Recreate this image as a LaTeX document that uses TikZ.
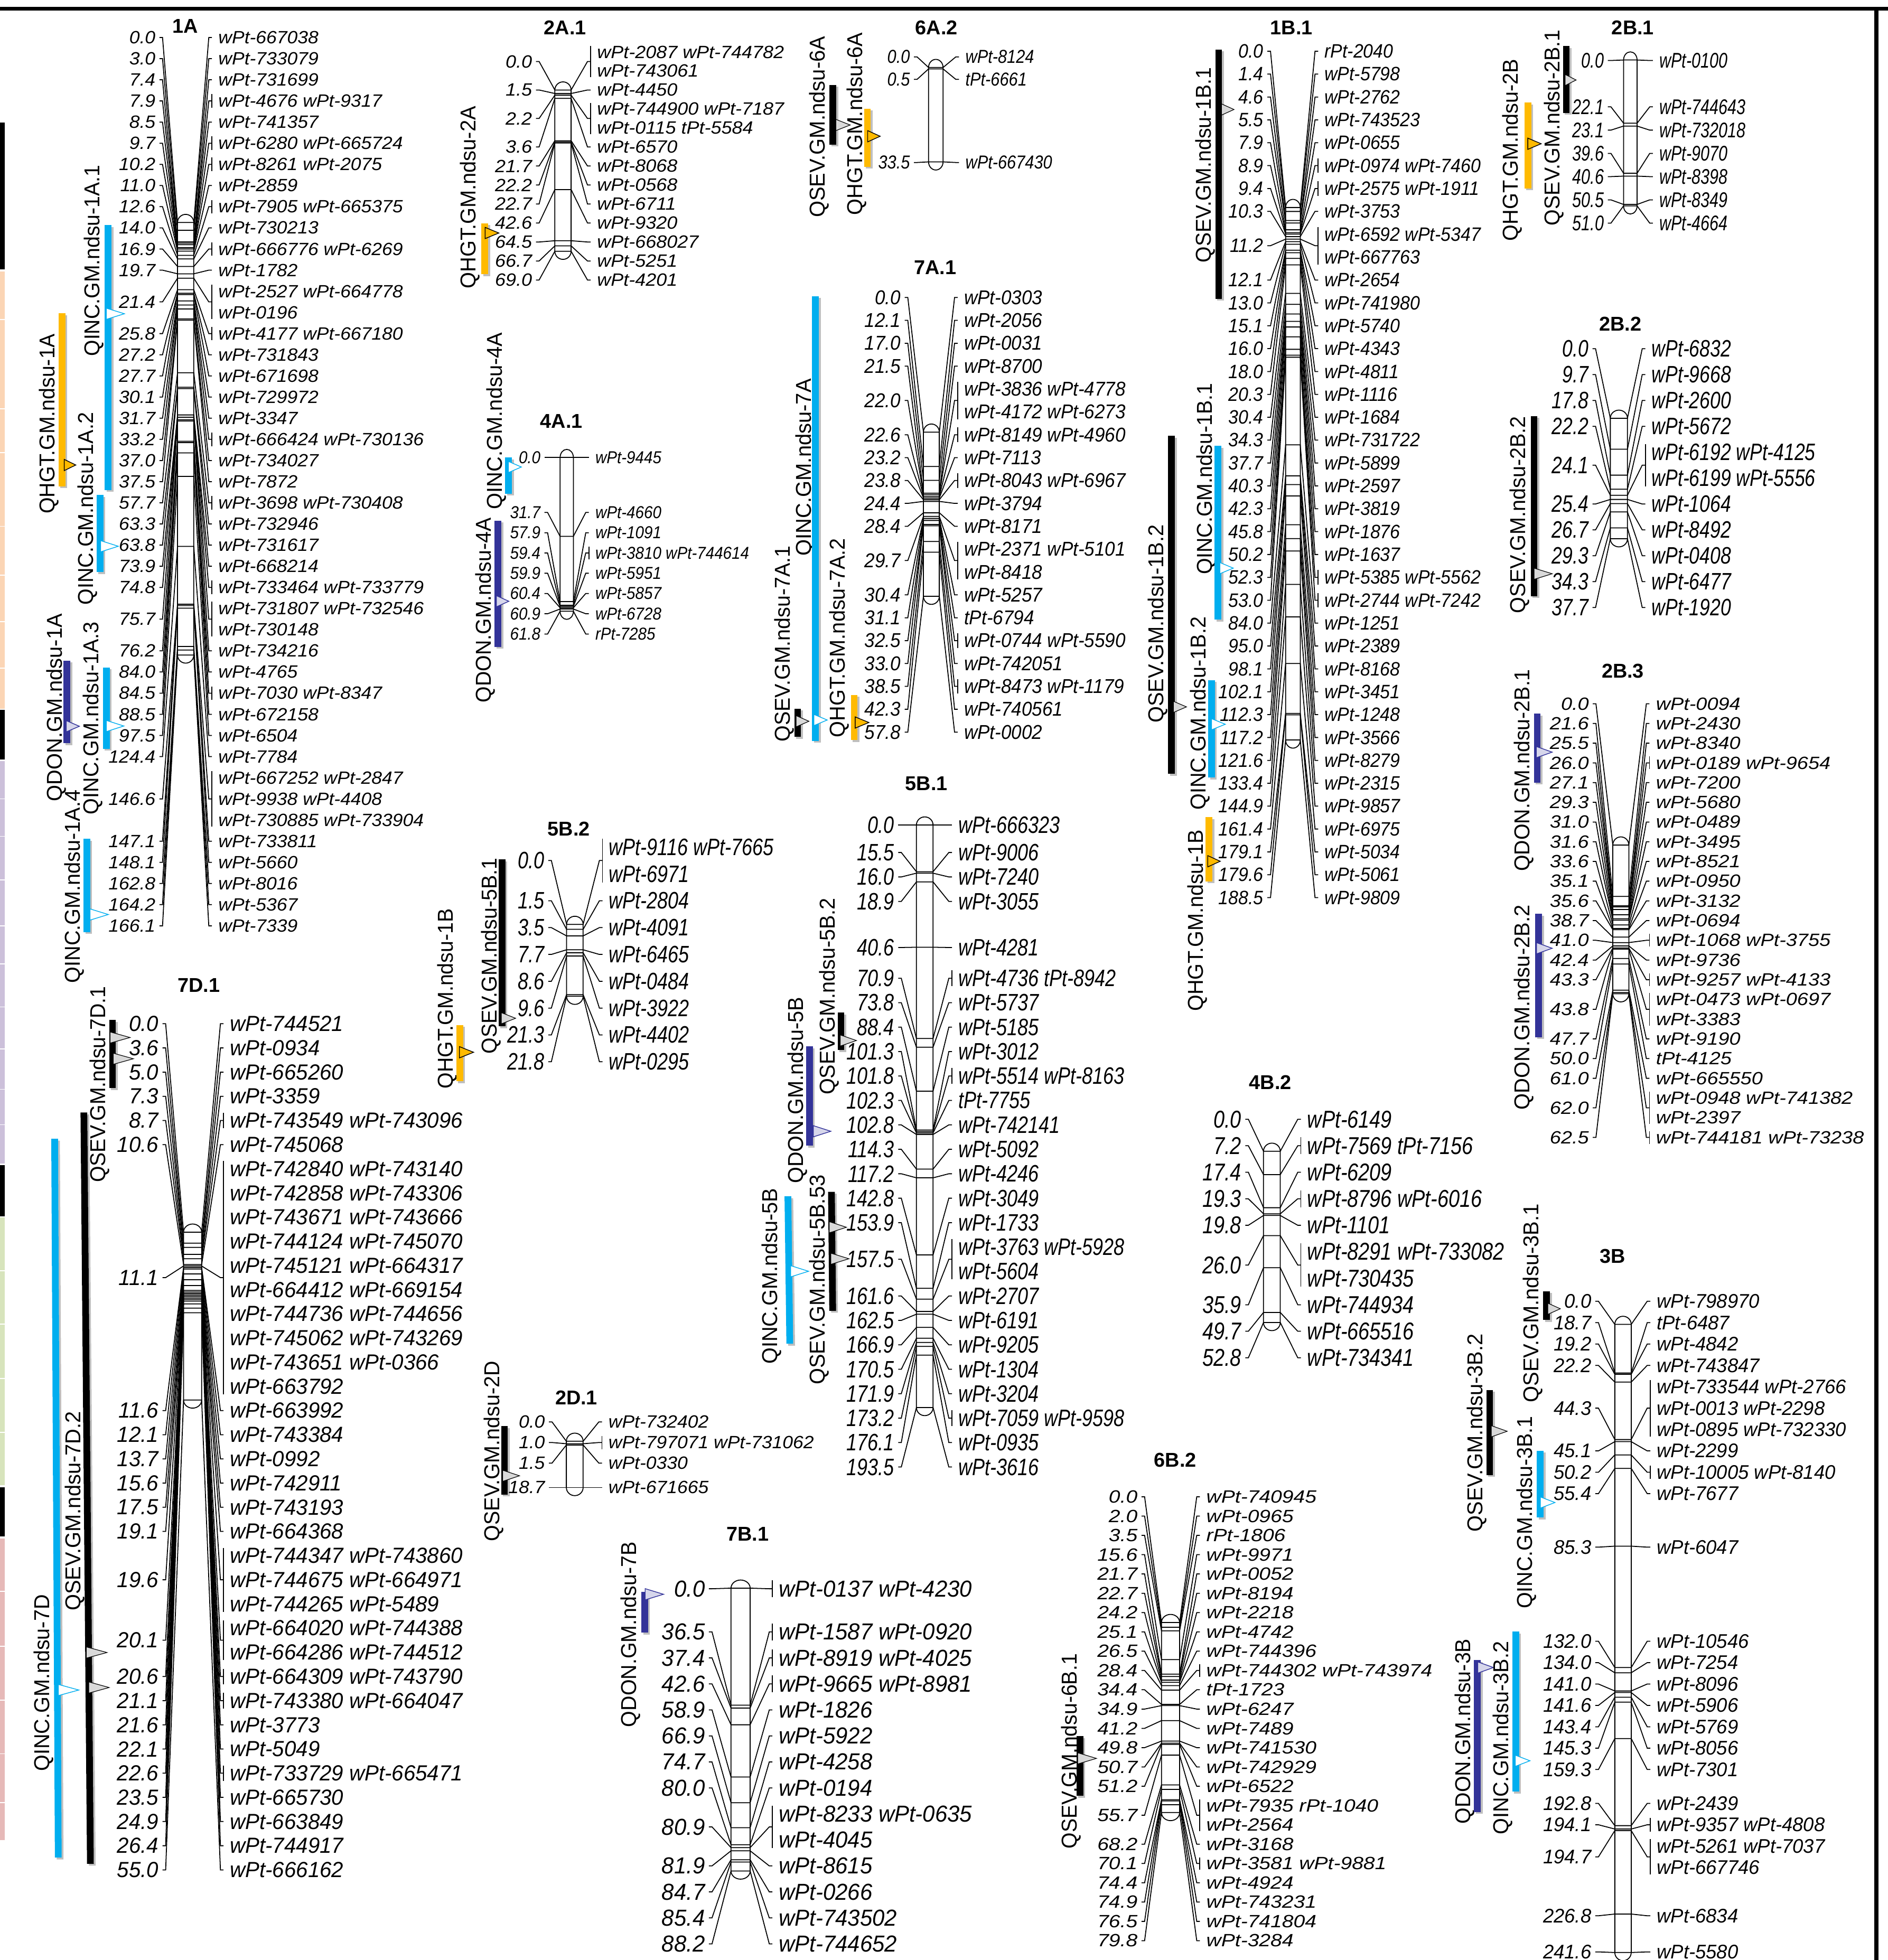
\documentclass[tikz,border=0pt]{standalone}
\usepackage{fontspec}
\usepackage{graphicx}
\setmainfont{Liberation Sans}
\definecolor{qincblue}{HTML}{00AEEF}
\definecolor{qhgtorange}{HTML}{FFBA00}
\definecolor{qdonnavy}{HTML}{333399}
\definecolor{stripeach}{HTML}{FBD5B5}
\definecolor{striplilac}{HTML}{CCC0DA}
\definecolor{stripgreen}{HTML}{D7E4BC}
\definecolor{strippink}{HTML}{E6B9B8}
\tikzset{
  mapnum/.style={anchor=east,inner ysep=0pt,inner xsep=3pt,font=\itshape},
  mapname/.style={anchor=west,inner ysep=0pt,inner xsep=5pt,font=\itshape},
  maplink/.style={line width=.75pt},
  maptitle/.style={font=\fontsize{16}{18}\selectfont\bfseries,inner sep=0pt},
  qtltext/.style={rotate=90,inner sep=0pt},
  barinc/.style={fill=qincblue},
  barhgt/.style={fill=qhgtorange},
  bardon/.style={fill=qdonnavy},
  barsev/.style={fill=black},
  triinc/.style={fill=white,draw=qincblue,line width=.6pt},
  trihgt/.style={fill=qhgtorange,draw=black,line width=.6pt},
  tridon/.style={fill=qdonnavy!20,draw=qdonnavy,line width=.6pt},
  trisev/.style={fill=black!15,draw=black,line width=.5pt}
}
\newcount\locus
\newcommand{\mapx}[6]{\def\xlt{#1}\def\xbl{#2}\def\xbr{#3}\def\xbk{#4}\def\sx{#5}\def\sy{#6}}
\newcommand{\mapy}[4]{\def\yo{#1}\def\yz{#2}\def\maxpos{#3}\def\dy{#4}}
\newcommand{\chrom}[3]{%
  \pgfmathsetmacro{\hw}{(\xbr-\xbl)/2}
  \node[maptitle] (t#1) at (#2,#3) {#1};
  \draw[maplink] (\xbl,\yo) arc[start angle=180,end angle=360,x radius=\hw,y radius=6.5]
    -- (\xbr,\yz) arc[start angle=0,end angle=180,x radius=\hw,y radius=6.5] -- cycle;
}
\newcommand{\loci}[2]{%
  \xdef\cury{#1}%
  \foreach \nr/\pos/\names in {#2} {
    \global\advance\locus by 1
    \pgfmathsetmacro{\rows}{max(\nr,1)}
    \pgfmathsetmacro{\ly}{\cury+(\rows-1)*\dy/2}
    \pgfmathsetmacro{\by}{\yo+\pos/\maxpos*(\yz-\yo)}
    \pgfmathsetmacro{\hb}{(\rows-1)*\dy/2+.32*\dy}
    \node[mapnum] (l\the\locus) at (\xlt,\ly) {\scalebox{\sx}[\sy]{\pos}};
    \foreach \nm [count=\rk] in \names {
      \pgfmathsetmacro{\ry}{\cury+(\rk-1)*\dy}
      \node[mapname] (r\the\locus-\rk) at (\xbk,\ry) {\scalebox{\sx}[\sy]{\nm}};
    }
    \coordinate (a\the\locus) at (\xbl,\by);
    \coordinate (b\the\locus) at (\xbr,\by);
    \coordinate (e\the\locus) at (\xbk,\ly);
    \draw[maplink] (l\the\locus.east) -- ++(2.5,0) -- (a\the\locus) -- (b\the\locus)
      -- ([xshift=-2.5pt]e\the\locus) -- (e\the\locus);
    \ifnum\nr=1\else
      \draw[maplink] (\xbk,\ly-\hb) -- (\xbk,\ly+\hb);
    \fi
    \pgfmathsetmacro{\nexty}{\cury+\rows*\dy}
    \xdef\cury{\nexty}
  }
}
\newcommand{\qtl}[9]{%
  \pgfmathsetmacro{\qlen}{#4-#5}
  \pgfmathsetmacro{\qmid}{(#4+#5)/2}
  \node[qtltext] (#2) at (#3,\qmid) {\resizebox{\qlen pt}{12.5pt}{#2}};
  \fill[black,opacity=.25] (#6-1.2,#8+1.5) -- (#6+4.2,#8+1.5) -- (#7+4.2,#9+1.5) -- (#7-1.2,#9+1.5) -- cycle;
  \fill[bar#1] (#6-2.7,#8) -- (#6+2.7,#8) -- (#7+2.7,#9) -- (#7-2.7,#9) -- cycle;
}
\newcommand{\qtri}[4]{%
  \draw[tri#1] (#2,#4-4.5) -- (#3,#4) -- (#2,#4+4.5) -- cycle;
}
\begin{document}
\begin{tikzpicture}[x=1pt,y=-1pt]
  \useasboundingbox (0,0) rectangle (1510,1568);
  % frame
  \fill[black] (0,5.7) rectangle (1510,8.5);
  \fill[black] (1499,7) rectangle (1502.3,1568);
  % strip on the left
  \fill[black] (0,98) rectangle (4,215.5);
  \fill[stripeach] (0,217) rectangle (4,567);
  \fill[black] (0,567.7) rectangle (4,607.7);
  \fill[striplilac] (0,609) rectangle (4,931);
  \fill[black] (0,932) rectangle (4,973);
  \fill[stripgreen] (0,974) rectangle (4,1188);
  \fill[black] (0,1190) rectangle (4,1229);
  \fill[strippink] (0,1231) rectangle (4,1472);
  \foreach \ys in {255.7,327,362,421,460,497.4,534.5,639,669,704,740.6,771,805.5,839,871.4,899.8,1016.7,1059.4,1102.7,1146,1273,1317,1360,1403,1442}
    \draw[white,line width=.7pt] (0,\ys) -- (4,\ys);

  % 1A
  \mapx{127.5}{142}{155}{169.5}{1.5}{1.42}
  \mapy{178}{524}{166.1}{16.92}
  \chrom{1A}{148}{21}
  \loci{30}{1/0.0/wPt-667038,1/3.0/wPt-733079,1/7.4/wPt-731699,0/7.9/wPt-4676 wPt-9317,1/8.5/wPt-741357,
    0/9.7/wPt-6280 wPt-665724,0/10.2/wPt-8261 wPt-2075,1/11.0/wPt-2859,0/12.6/wPt-7905 wPt-665375,1/14.0/wPt-730213,
    0/16.9/wPt-666776 wPt-6269,1/19.7/wPt-1782,2/21.4/{wPt-2527 wPt-664778,wPt-0196},0/25.8/wPt-4177 wPt-667180,
    1/27.2/wPt-731843,1/27.7/wPt-671698,1/30.1/wPt-729972,1/31.7/wPt-3347,0/33.2/wPt-666424 wPt-730136,
    1/37.0/wPt-734027,1/37.5/wPt-7872,0/57.7/wPt-3698 wPt-730408,1/63.3/wPt-732946,1/63.8/wPt-731617,
    1/73.9/wPt-668214,0/74.8/wPt-733464 wPt-733779,2/75.7/{wPt-731807 wPt-732546,wPt-730148},1/76.2/wPt-734216,
    1/84.0/wPt-4765,0/84.5/wPt-7030 wPt-8347,1/88.5/wPt-672158,1/97.5/wPt-6504,1/124.4/wPt-7784,
    3/146.6/{wPt-667252 wPt-2847,wPt-9938 wPt-4408,wPt-730885 wPt-733904},1/147.1/wPt-733811,1/148.1/wPt-5660,
    1/162.8/wPt-8016,1/164.2/wPt-5367,1/166.1/wPt-7339}

  % 7D.1
  \mapx{130}{146.8}{161.3}{178.8}{1.7}{1.75}
  \mapy{985.7}{1120}{55.0}{19.34}
  \chrom{7D.1}{159}{788}
  \loci{819}{1/0.0/wPt-744521,1/3.6/wPt-0934,1/5.0/wPt-665260,1/7.3/wPt-3359,0/8.7/wPt-743549 wPt-743096,1/10.6/wPt-745068,
    10/11.1/{wPt-742840 wPt-743140,wPt-742858 wPt-743306,wPt-743671 wPt-743666,wPt-744124 wPt-745070,wPt-745121 wPt-664317,
    wPt-664412 wPt-669154,wPt-744736 wPt-744656,wPt-745062 wPt-743269,wPt-743651 wPt-0366,wPt-663792},
    1/11.6/wPt-663992,1/12.1/wPt-743384,1/13.7/wPt-0992,1/15.6/wPt-742911,1/17.5/wPt-743193,1/19.1/wPt-664368,
    3/19.6/{wPt-744347 wPt-743860,wPt-744675 wPt-664971,wPt-744265 wPt-5489},2/20.1/{wPt-664020 wPt-744388,wPt-664286 wPt-744512},
    0/20.6/wPt-664309 wPt-743790,0/21.1/wPt-743380 wPt-664047,1/21.6/wPt-3773,1/22.1/wPt-5049,0/22.6/wPt-733729 wPt-665471,
    1/23.5/wPt-665730,1/24.9/wPt-663849,1/26.4/wPt-744917,1/55.0/wPt-666162}

  % 2A.1
  \mapx{428.7}{443.8}{456.8}{472.4}{1.52}{1.42}
  \mapy{72}{201}{69.0}{15.2}
  \chrom{2A.1}{452}{22}
  \loci{41.6}{2/0.0/{wPt-2087 wPt-744782,wPt-743061},1/1.5/wPt-4450,2/2.2/{wPt-744900 wPt-7187,wPt-0115 tPt-5584},1/3.6/wPt-6570,
    1/21.7/wPt-8068,1/22.2/wPt-0568,1/22.7/wPt-6711,1/42.6/wPt-9320,1/64.5/wPt-668027,1/66.7/wPt-5251,1/69.0/wPt-4201}

  % 4A.1
  \mapx{435.5}{448}{458.6}{471}{1.25}{1.38}
  \mapy{366}{489}{61.8}{16.2}
  \chrom{4A.1}{449}{337}
  \loci{366}{1/0.0/wPt-9445}
  \loci{410}{1/31.7/wPt-4660,1/57.9/wPt-1091,0/59.4/wPt-3810 wPt-744614,1/59.9/wPt-5951,1/60.4/wPt-5857,1/60.9/wPt-6728,1/61.8/rPt-7285}

  % 6A.2
  \mapx{731}{742.7}{754.3}{767}{1.3}{1.5}
  \mapy{54}{129.5}{33.5}{18}
  \chrom{6A.2}{749}{22}
  \loci{45.5}{1/0.0/wPt-8124,1/0.5/tPt-6661}
  \loci{130}{1/33.5/wPt-667430}

  % 7A.1
  \mapx{723.6}{738.6}{751.3}{766}{1.48}{1.6}
  \mapy{345.7}{477}{57.8}{18.3}
  \chrom{7A.1}{748}{214}
  \loci{238}{1/0.0/wPt-0303,1/12.1/wPt-2056,1/17.0/wPt-0031,1/21.5/wPt-8700,2/22.0/{wPt-3836 wPt-4778,wPt-4172 wPt-6273},
    0/22.6/wPt-8149 wPt-4960,1/23.2/wPt-7113,0/23.8/wPt-8043 wPt-6967,1/24.4/wPt-3794,1/28.4/wPt-8171,
    2/29.7/{wPt-2371 wPt-5101,wPt-8418},1/30.4/wPt-5257,1/31.1/tPt-6794,0/32.5/wPt-0744 wPt-5590,1/33.0/wPt-742051,
    0/38.5/wPt-8473 wPt-1179,1/42.3/wPt-740561,1/57.8/wPt-0002}

  % 5B.2
  \mapx{438.5}{453.2}{466.4}{481.9}{1.52}{1.9}
  \mapy{739.5}{797}{21.8}{21.46}
  \chrom{5B.2}{455}{663}
  \loci{677.7}{2/0.0/{wPt-9116 wPt-7665,wPt-6971},1/1.5/wPt-2804,1/3.5/wPt-4091,1/7.7/wPt-6465,1/8.6/wPt-0484,1/9.6/wPt-3922,
    1/21.3/wPt-4402,1/21.8/wPt-0295}

  % 2D.1
  \mapx{439}{453}{466.4}{481.5}{1.5}{1.42}
  \mapy{1153}{1190}{18.7}{16.5}
  \chrom{2D.1}{461}{1118}
  \loci{1137.5}{1/0.0/wPt-732402,0/1.0/wPt-797071 wPt-731062,1/1.5/wPt-0330}
  \loci{1190}{1/18.7/wPt-671665}

  % 5B.1
  \mapx{718.4}{733}{746.3}{761.4}{1.52}{1.9}
  \mapy{660}{1126}{193.5}{19.55}
  \chrom{5B.1}{741}{627}
  \loci{660}{1/0.0/wPt-666323}
  \loci{682}{1/15.5/wPt-9006,1/16.0/wPt-7240,1/18.9/wPt-3055}
  \loci{758}{1/40.6/wPt-4281}
  \loci{782.6}{0/70.9/wPt-4736 tPt-8942,1/73.8/wPt-5737,1/88.4/wPt-5185,1/101.3/wPt-3012,0/101.8/wPt-5514 wPt-8163,1/102.3/tPt-7755,
    1/102.8/wPt-742141,1/114.3/wPt-5092,1/117.2/wPt-4246,1/142.8/wPt-3049,1/153.9/wPt-1733,2/157.5/{wPt-3763 wPt-5928,wPt-5604},
    1/161.6/wPt-2707,1/162.5/wPt-6191,1/166.9/wPt-9205,1/170.5/wPt-1304,1/171.9/wPt-3204,0/173.2/wPt-7059 wPt-9598,
    1/176.1/wPt-0935,1/193.5/wPt-3616}

  % 7B.1
  \mapx{567}{584.7}{600}{617.8}{1.77}{1.85}
  \mapy{1270.5}{1496.8}{88.2}{20.8}
  \chrom{7B.1}{598}{1227}
  \loci{1271}{0/0.0/wPt-0137 wPt-4230}
  \loci{1305.5}{0/36.5/wPt-1587 wPt-0920,0/37.4/wPt-8919 wPt-4025,0/42.6/wPt-9665 wPt-8981,1/58.9/wPt-1826,1/66.9/wPt-5922,
    1/74.7/wPt-4258,1/80.0/wPt-0194,2/80.9/{wPt-8233 wPt-0635,wPt-4045},1/81.9/wPt-8615,1/84.7/wPt-0266,1/85.4/wPt-743502,1/88.2/wPt-744652}

  % 1B.1
  \mapx{1013.7}{1028.3}{1040}{1054.3}{1.43}{1.55}
  \mapy{166}{592}{188.5}{18.3}
  \chrom{1B.1}{1033}{22}
  \loci{41}{1/0.0/rPt-2040,1/1.4/wPt-5798,1/4.6/wPt-2762,1/5.5/wPt-743523,1/7.9/wPt-0655,0/8.9/wPt-0974 wPt-7460,0/9.4/wPt-2575 wPt-1911,
    1/10.3/wPt-3753,2/11.2/{wPt-6592 wPt-5347,wPt-667763},1/12.1/wPt-2654,1/13.0/wPt-741980,1/15.1/wPt-5740,1/16.0/wPt-4343,
    1/18.0/wPt-4811,1/20.3/wPt-1116,1/30.4/wPt-1684,1/34.3/wPt-731722,1/37.7/wPt-5899,1/40.3/wPt-2597,1/42.3/wPt-3819,
    1/45.8/wPt-1876,1/50.2/wPt-1637,0/52.3/wPt-5385 wPt-5562,0/53.0/wPt-2744 wPt-7242,1/84.0/wPt-1251,1/95.0/wPt-2389,
    1/98.1/wPt-8168,1/102.1/wPt-3451,1/112.3/wPt-1248,1/117.2/wPt-3566,1/121.6/wPt-8279,1/133.4/wPt-2315,1/144.9/wPt-9857,
    1/161.4/wPt-6975,1/179.1/wPt-5034,1/179.6/wPt-5061,1/188.5/wPt-9809}

  % 2B.1
  \mapx{1286}{1298.6}{1309.4}{1322}{1.29}{1.7}
  \mapy{48}{164.7}{51.0}{18.6}
  \chrom{2B.1}{1306}{22}
  \loci{48.4}{1/0.0/wPt-0100}
  \loci{85.5}{1/22.1/wPt-744643,1/23.1/wPt-732018,1/39.6/wPt-9070,1/40.6/wPt-8398,1/50.5/wPt-8349,1/51.0/wPt-4664}

  % 2B.2
  \mapx{1273.7}{1288}{1301.7}{1316}{1.5}{1.9}
  \mapy{334.6}{431}{37.7}{20.7}
  \chrom{2B.2}{1296}{259}
  \loci{279}{1/0.0/wPt-6832,1/9.7/wPt-9668,1/17.8/wPt-2600,1/22.2/wPt-5672,2/24.1/{wPt-6192 wPt-4125,wPt-6199 wPt-5556},
    1/25.4/wPt-1064,1/26.7/wPt-8492,1/29.3/wPt-0408,1/34.3/wPt-6477,1/37.7/wPt-1920}

  % 2B.3
  \mapx{1274}{1290}{1302.8}{1319.3}{1.6}{1.42}
  \mapy{676}{795}{62.5}{15.77}
  \chrom{2B.3}{1298}{537}
  \loci{563}{1/0.0/wPt-0094,1/21.6/wPt-2430,1/25.5/wPt-8340,0/26.0/wPt-0189 wPt-9654,1/27.1/wPt-7200,1/29.3/wPt-5680,1/31.0/wPt-0489,
    1/31.6/wPt-3495,1/33.6/wPt-8521,1/35.1/wPt-0950,1/35.6/wPt-3132,1/38.7/wPt-0694,0/41.0/wPt-1068 wPt-3755,1/42.4/wPt-9736,
    0/43.3/wPt-9257 wPt-4133,2/43.8/{wPt-0473 wPt-0697,wPt-3383},1/47.7/wPt-9190,1/50.0/tPt-4125,1/61.0/wPt-665550,
    2/62.0/{wPt-0948 wPt-741382,wPt-2397},0/62.5/wPt-744181 wPt-73238}

  % 4B.2
  \mapx{996}{1010.6}{1024}{1040.5}{1.6}{1.95}
  \mapy{921}{1058}{52.8}{21.2}
  \chrom{4B.2}{1016}{866}
  \loci{895.4}{1/0.0/wPt-6149,0/7.2/wPt-7569 tPt-7156,1/17.4/wPt-6209,0/19.3/wPt-8796 wPt-6016,1/19.8/wPt-1101,
    2/26.0/{wPt-8291 wPt-733082,wPt-730435},1/35.9/wPt-744934,1/49.7/wPt-665516,1/52.8/wPt-734341}

  % 3B
  \mapx{1276}{1291.6}{1304.7}{1320}{1.54}{1.58}
  \mapy{1059.5}{1562}{241.6}{17.1}
  \chrom{3B}{1290}{1005}
  \loci{1041}{1/0.0/wPt-798970,1/18.7/tPt-6487,1/19.2/wPt-4842,1/22.2/wPt-743847,
    3/44.3/{wPt-733544 wPt-2766,wPt-0013 wPt-2298,wPt-0895 wPt-732330},1/45.1/wPt-2299,0/50.2/wPt-10005 wPt-8140,1/55.4/wPt-7677}
  \loci{1237.7}{1/85.3/wPt-6047}
  \loci{1313}{1/132.0/wPt-10546,1/134.0/wPt-7254,1/141.0/wPt-8096,1/141.6/wPt-5906,1/143.4/wPt-5769,1/145.3/wPt-8056,1/159.3/wPt-7301}
  \loci{1442.7}{1/192.8/wPt-2439,0/194.1/wPt-9357 wPt-4808,2/194.7/{wPt-5261 wPt-7037,wPt-667746}}
  \loci{1532.6}{1/226.8/wPt-6834}
  \loci{1561.5}{1/241.6/wPt-5580}

  % 6B.2
  \mapx{913}{929}{943.5}{959.7}{1.65}{1.42}
  \mapy{1298}{1450}{79.8}{15.44}
  \chrom{6B.2}{940}{1168}
  \loci{1197.4}{1/0.0/wPt-740945,1/2.0/wPt-0965,1/3.5/rPt-1806,1/15.6/wPt-9971,1/21.7/wPt-0052,1/22.7/wPt-8194,1/24.2/wPt-2218,
    1/25.1/wPt-4742,1/26.5/wPt-744396,0/28.4/wPt-744302 wPt-743974,1/34.4/tPt-1723,1/34.9/wPt-6247,1/41.2/wPt-7489,
    1/49.8/wPt-741530,1/50.7/wPt-742929,1/51.2/wPt-6522,2/55.7/{wPt-7935 rPt-1040,wPt-2564},1/68.2/wPt-3168,
    0/70.1/wPt-3581 wPt-9881,1/74.4/wPt-4924,1/74.9/wPt-743231,1/76.5/wPt-741804,1/79.8/wPt-3284}

  % QTL bars, labels and peaks
  \qtl{inc}{QINC.GM.ndsu-1A.1}{75}{285}{132}{86.5}{86.5}{180}{392}
  \qtri{inc}{85}{99.5}{251}
  \qtl{hgt}{QHGT.GM.ndsu-1A}{39}{411}{267}{49.5}{49.5}{250.6}{389}
  \qtri{hgt}{51.4}{60.6}{372}
  \qtl{inc}{QINC.GM.ndsu-1A.2}{70}{484}{330}{80}{80}{396}{457.7}
  \qtri{inc}{80.5}{94.6}{437}
  \qtl{don}{QDON.GM.ndsu-1A}{45}{641}{491}{53.5}{53.5}{528.5}{594.7}
  \qtri{don}{53}{63.5}{581}
  \qtl{inc}{QINC.GM.ndsu-1A.3}{74}{651.6}{497.4}{85}{85}{534}{599}
  \qtri{inc}{85}{99}{580.8}
  \qtl{inc}{QINC.GM.ndsu-1A.4}{59.4}{786.5}{632}{69.5}{69.5}{671}{745.6}
  \qtri{inc}{72}{86.6}{731.6}
  \qtl{sev}{QSEV.GM.ndsu-7D.1}{79.6}{946}{789}{90}{90}{816}{870.4}
  \qtri{sev}{88}{104}{830}
  \qtri{sev}{90.5}{106.7}{847}
  \qtl{sev}{QSEV.GM.ndsu-7D.2}{60}{1288.6}{1129}{67.1}{72.3}{890}{1491}
  \qtri{sev}{69}{85.6}{1322}
  \qtri{sev}{71}{87.3}{1350}
  \qtl{inc}{QINC.GM.ndsu-7D}{35}{1417}{1275.7}{43.7}{46.6}{911}{1486}
  \qtri{inc}{46.6}{63}{1352}
  \qtl{hgt}{QHGT.GM.ndsu-2A}{376}{231}{85}{387.7}{387.7}{178.7}{219.5}
  \qtri{hgt}{388}{399}{186.4}
  \qtl{sev}{QSEV.GM.ndsu-6A}{655}{174}{29}{666.2}{666.2}{68}{115.6}
  \qtri{sev}{668.6}{680}{100}
  \qtl{hgt}{QHGT.GM.ndsu-6A}{685}{172}{26}{693.8}{693.8}{87}{133.4}
  \qtri{hgt}{694}{704}{109}
  \qtl{inc}{QINC.GM.ndsu-4A}{397}{407.5}{266}{406.8}{406.8}{366}{395}
  \qtri{inc}{406.6}{417}{373.6}
  \qtl{don}{QDON.GM.ndsu-4A}{388}{562}{414.4}{398.3}{398.3}{416.4}{517.5}
  \qtri{don}{397}{407}{481}
  \qtl{inc}{QINC.GM.ndsu-7A}{644.3}{444.7}{303}{652.3}{652.3}{237}{592.7}
  \qtri{inc}{651}{661.6}{576}
  \qtl{sev}{QSEV.GM.ndsu-7A.1}{627.4}{593.5}{436.6}{638}{638}{567}{589.5}
  \qtri{sev}{636.8}{647}{577}
  \qtl{hgt}{QHGT.GM.ndsu-7A.2}{671}{590}{430.6}{683.2}{683.2}{556}{592}
  \qtri{hgt}{684}{695}{578}
  \qtl{sev}{QSEV.GM.ndsu-1B.1}{964}{210}{54}{974.8}{974.8}{39.6}{239}
  \qtri{sev}{977}{987}{87.6}
  \qtl{sev}{QSEV.GM.ndsu-1B.2}{925.9}{578.4}{419.8}{937}{937}{348.6}{619}
  \qtri{sev}{938.5}{949}{565.5}
  \qtl{inc}{QINC.GM.ndsu-1B.1}{965}{459.7}{306.6}{974.2}{974.2}{356.7}{495.8}
  \qtri{inc}{975.7}{986.4}{454.5}
  \qtl{inc}{QINC.GM.ndsu-1B.2}{959.6}{648}{493.4}{969}{969}{544}{622}
  \qtri{inc}{969}{980}{579.4}
  \qtl{hgt}{QHGT.GM.ndsu-1B}{957.7}{809}{664}{967}{967}{653.8}{705}
  \qtri{hgt}{966}{976}{689}
  \qtl{sev}{QSEV.GM.ndsu-2B.1}{1243}{180.5}{23.8}{1252.8}{1252.8}{36.8}{90.4}
  \qtri{sev}{1251.8}{1260.6}{64}
  \qtl{hgt}{QHGT.GM.ndsu-2B}{1209.6}{192.7}{47.3}{1222}{1222}{82}{150.7}
  \qtri{hgt}{1222}{1232.7}{115}
  \qtl{sev}{QSEV.GM.ndsu-2B.2}{1215.4}{490.6}{333}{1227}{1227}{332.9}{477}
  \qtri{sev}{1227}{1241.5}{459}
  \qtl{don}{QDON.GM.ndsu-2B.1}{1219}{697}{535.4}{1229.5}{1229.5}{571}{626}
  \qtri{don}{1228.8}{1241.5}{601.7}
  \qtl{don}{QDON.GM.ndsu-2B.2}{1219}{888}{724}{1230.7}{1230.7}{731}{829.7}
  \qtri{don}{1229}{1241.5}{758.6}
  \qtl{sev}{QSEV.GM.ndsu-3B.1}{1226}{1122}{963}{1237}{1237}{1033}{1056}
  \qtri{sev}{1238}{1248}{1047}
  \qtl{sev}{QSEV.GM.ndsu-3B.2}{1181}{1225.5}{1067}{1191.5}{1191.5}{1112}{1180}
  \qtri{sev}{1192.8}{1205.5}{1145}
  \qtl{inc}{QINC.GM.ndsu-3B.1}{1221}{1287}{1133}{1232}{1232}{1160.6}{1214}
  \qtri{inc}{1232}{1243.7}{1202}
  \qtl{don}{QDON.GM.ndsu-3B}{1171.6}{1459}{1311}{1181.7}{1181.7}{1328}{1449.5}
  \qtri{don}{1182}{1194.5}{1334}
  \qtl{inc}{QINC.GM.ndsu-3B.2}{1202}{1467.5}{1313}{1212.3}{1212.3}{1305.3}{1433.4}
  \qtri{inc}{1212}{1223.7}{1408.6}
  \qtl{sev}{QSEV.GM.ndsu-6B.1}{856.6}{1479}{1323}{863.7}{863.7}{1389}{1436.7}
  \qtri{sev}{862}{877}{1406.7}
  \qtl{hgt}{QHGT.GM.ndsu-1B}{357.7}{871}{727}{367.7}{367.7}{820}{865}
  \qtri{hgt}{367.5}{378.8}{841.8}
  \qtl{sev}{QSEV.GM.ndsu-5B.1}{392.8}{843}{686.4}{401.5}{401.5}{687.5}{821}
  \qtri{sev}{401}{412.4}{814.6}
  \qtl{sev}{QSEV.GM.ndsu-2D}{394.7}{1233}{1089}{403.5}{403.5}{1141}{1195.7}
  \qtri{sev}{402}{415.5}{1180.6}
  \qtl{sev}{QSEV.GM.ndsu-5B.2}{663.3}{875.8}{718.4}{672.7}{672.7}{810}{840}
  \qtri{sev}{672}{685}{832.4}
  \qtl{don}{QDON.GM.ndsu-5B}{638}{946.7}{797.7}{647.5}{647.5}{837}{916.5}
  \qtri{don}{650.5}{664.5}{905}
  \qtl{inc}{QINC.GM.ndsu-5B}{617.3}{1091.2}{950.5}{630.2}{631.7}{957}{1075}
  \qtri{inc}{632.4}{646.7}{1017}
  \qtl{sev}{QSEV.GM.ndsu-5B.53}{655}{1107.8}{940}{665}{666}{953.5}{1048.6}
  \qtri{sev}{663.3}{677}{981.8}
  \qtri{sev}{664.5}{679}{1007}
  \qtl{don}{QDON.GM.ndsu-7B}{504.3}{1381.7}{1233.6}{515.7}{515.7}{1273.4}{1306}
  \qtri{don}{516}{530.7}{1275.4}
\end{tikzpicture}
\end{document}
